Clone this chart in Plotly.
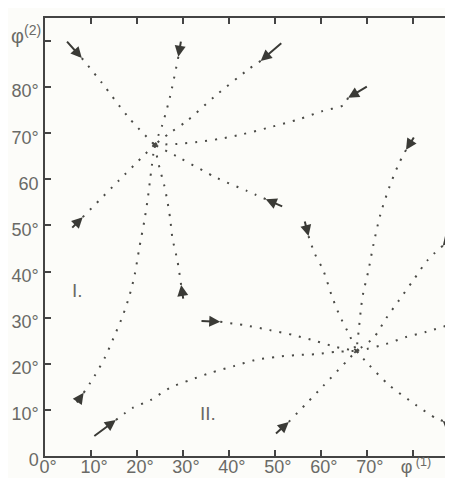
import plotly.graph_objects as go

# Attractors (phi1, phi2)
attractor_I = (23.8, 67.5)
attractor_II = (67.7, 22.8)

# Trajectories toward attractor I (phi1, phi2)
traj_I_1 = [(8.0, 86.3), (12.4, 80.9), (18.1, 73.5), (23.8, 67.5)]
traj_I_2 = [(29.0, 86.6), (27.2, 78.0), (25.4, 71.5), (23.8, 67.5)]
traj_I_3 = [(46.9, 85.7), (44.3, 83.9), (37.0, 78.1), (30.9, 72.7), (27.2, 70.1), (23.8, 67.5)]
traj_I_4 = [(65.9, 77.7), (64.9, 76.1), (60.3, 74.8), (55.4, 73.1), (49.3, 71.4), (43.0, 69.8),
            (38.1, 68.8), (33.1, 68.1), (28.8, 67.7), (23.8, 67.5)]
traj_I_5 = [(48.0, 55.7), (43.9, 57.5), (37.4, 60.3), (29.4, 64.6), (23.8, 67.5)]
traj_I_6 = [(8.2, 51.8), (16.0, 59.7), (23.8, 67.5)]
traj_I_7 = [(8.4, 13.7), (10.8, 17.4), (13.0, 21.3), (14.9, 25.6), (16.9, 30.4), (18.4, 34.9),
            (19.5, 39.3), (20.5, 45.1), (21.6, 51.0), (22.3, 55.5), (22.9, 60.3), (23.8, 67.5)]
traj_I_8 = [(29.6, 37.1), (28.8, 42.3), (27.7, 47.3), (27.2, 51.6), (26.6, 55.3), (25.9, 58.8),
            (24.9, 62.5), (23.8, 67.5)]

# Trajectories toward attractor II
traj_II_1 = [(78.5, 66.4), (76.8, 63.1), (74.8, 58.1), (72.9, 52.3), (71.4, 45.8), (70.3, 40.1),
             (69.2, 35.4), (68.8, 32.8), (68.1, 26.2), (67.7, 22.8)]
traj_II_2 = [(86.5, 45.6), (83.2, 42.5), (80.0, 38.0), (77.0, 33.8), (74.2, 29.9), (71.4, 25.6),
             (67.7, 22.8)]
traj_II_3 = [(87.1, 28.2), (82.8, 26.9), (78.5, 25.8), (74.2, 24.3), (69.9, 23.2), (67.7, 22.8)]
traj_II_4 = [(86.5, 7.6), (85.0, 8.2), (80.6, 11.1), (74.8, 15.4), (70.5, 19.7), (67.7, 22.8)]
traj_II_5 = [(53.0, 7.4), (60.4, 15.1), (67.7, 22.8)]
traj_II_6 = [(15.4, 7.8), (19.0, 10.4), (22.9, 12.1), (27.2, 14.8), (31.6, 16.5), (35.9, 18.0),
             (41.1, 19.5), (45.6, 20.8), (50.4, 21.5), (54.7, 21.9), (59.0, 22.1), (63.4, 22.6),
             (67.7, 22.8)]
traj_II_7 = [(38.1, 29.1), (43.2, 28.4), (48.9, 27.3), (54.1, 26.2), (59.0, 24.9), (63.4, 23.6),
             (67.7, 22.8)]
traj_II_8 = [(57.3, 47.7), (58.6, 44.0), (60.5, 40.3), (62.3, 34.9), (64.0, 30.6), (66.2, 26.2),
             (67.7, 22.8)]

# Arrows: (tail, head)
arrows = [
    ((4.5, 90.2), (8.0, 86.3)),
    ((29.6, 90.2), (29.0, 86.6)),
    ((51.7, 89.8), (46.9, 85.7)),
    ((70.3, 80.3), (65.9, 77.7)),
    ((51.9, 54.0), (48.0, 55.7)),
    ((5.6, 49.2), (8.2, 51.8)),
    ((6.7, 11.3), (8.4, 13.7)),
    ((30.1, 33.8), (29.6, 37.1)),
    ((80.4, 69.4), (78.5, 66.4)),
    ((89.7, 49.5), (86.5, 45.6)),
    ((89.7, 29.3), (87.1, 28.2)),
    ((89.5, 4.8), (86.5, 7.6)),
    ((49.9, 4.6), (53.0, 7.4)),
    ((10.4, 4.1), (15.4, 7.8)),
    ((33.7, 29.3), (38.1, 29.1)),
    ((56.4, 51.2), (57.3, 47.7)),
]

x_tickvals = [0, 10, 20, 30, 40, 50, 60, 70, 80]
x_ticktext = ["0°", "10°", "20°", "30°", "40°", "50°", "60°", "70°", "φ<sup> (1)</sup>"]
y_tickvals = [0, 10, 20, 30, 40, 50, 60, 70, 80, 90]
y_ticktext = ["0", "10°", "20°", "30°", "40°", "50°", "60", "70°", "80°", " "]

region_labels = [("I.", 7.0, 36.0), ("II.", 35.5, 9.3)]

trajectories = [traj_I_1, traj_I_2, traj_I_3, traj_I_4, traj_I_5, traj_I_6, traj_I_7, traj_I_8,
                traj_II_1, traj_II_2, traj_II_3, traj_II_4, traj_II_5, traj_II_6, traj_II_7, traj_II_8]

dot_color = "#4a4a46"
text_color = "#6a6a66"
font_family = "Liberation Sans, DejaVu Sans, sans-serif"

fig = go.Figure()
for tr in trajectories:
    fig.add_trace(go.Scatter(
        x=[p[0] for p in tr], y=[p[1] for p in tr], mode="lines",
        line=dict(color=dot_color, width=2, dash="2px,8px", shape="spline", smoothing=0.8),
        showlegend=False, hoverinfo="skip"))

for px, py in [attractor_I, attractor_II]:
    fig.add_trace(go.Scatter(x=[px], y=[py], mode="markers",
                             marker=dict(color=dot_color, size=4, symbol="x-thin",
                                         line=dict(width=2, color=dot_color)),
                             showlegend=False, hoverinfo="skip"))

annotations = []
for (tx, ty), (hx, hy) in arrows:
    annotations.append(dict(x=hx, y=hy, ax=tx, ay=ty, xref="x", yref="y", axref="x", ayref="y",
                            showarrow=True, arrowhead=2, arrowsize=1.1, arrowwidth=2,
                            arrowcolor="#3a3a36", text=""))
for txt, lx, ly in region_labels:
    annotations.append(dict(x=lx, y=ly, xref="x", yref="y", text=txt, showarrow=False,
                            font=dict(size=19, color=text_color, family=font_family)))
annotations.append(dict(x=-0.045, y=0.962, xref="paper", yref="paper", xanchor="center", yanchor="middle",
                        text="φ<sup>(2)</sup>", showarrow=False,
                        font=dict(size=20, color=text_color, family=font_family)))
fig.update_layout(annotations=annotations)

fig.update_layout(
    width=453, height=478,
    margin=dict(l=37, r=1, t=10, b=30),
    paper_bgcolor="#fcfcf9", plot_bgcolor="#fcfcf9",
    font=dict(family=font_family, color=text_color, size=19),
)
fig.update_xaxes(range=[0, 89.8], tickvals=x_tickvals, ticktext=x_ticktext,
                 ticks="inside", ticklen=6, tickwidth=1.5, tickcolor="#444",
                 showline=True, linecolor="#444", linewidth=1.5, mirror="ticks",
                 showgrid=False, zeroline=False, ticklabelstandoff=-6, ticklabelshift=3,
                 tickfont=dict(size=18, color=text_color))
fig.update_yaxes(range=[0, 95], tickvals=y_tickvals, ticktext=y_ticktext,
                 ticks="inside", ticklen=6, tickwidth=1.5, tickcolor="#444",
                 showline=True, linecolor="#444", linewidth=1.5, mirror="ticks",
                 showgrid=False, zeroline=False, ticklabelstandoff=1, ticklabelshift=4,
                 tickfont=dict(size=18, color=text_color))

fig.write_html("out.html")
